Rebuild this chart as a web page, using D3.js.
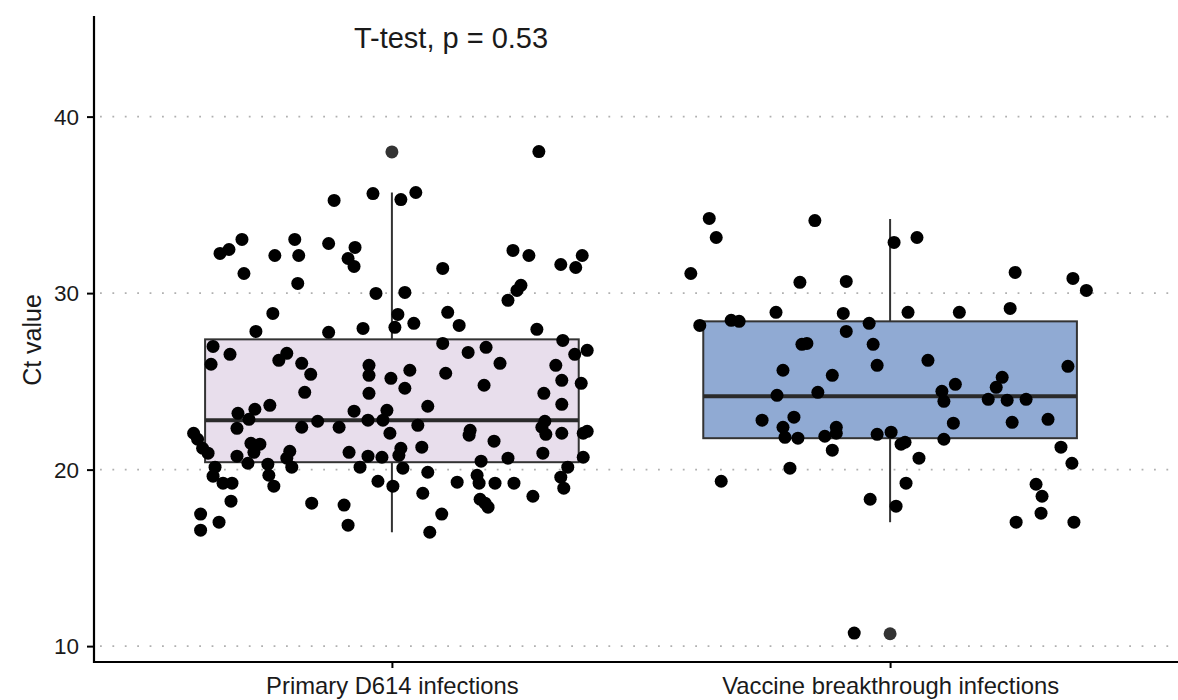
<!DOCTYPE html>
<html>
<head>
<meta charset="utf-8">
<script src="https://cdn.jsdelivr.net/npm/d3@7"></script>
<style>
  html, body { margin: 0; padding: 0; background: #fff; }
  svg { display: block; font-family: "Liberation Sans", Arial, sans-serif; }
</style>
</head>
<body>
<svg id="chart" width="1178" height="700"></svg>
<script>
// ---------------- data ----------------
const categories = ["Primary D614 infections", "Vaccine breakthrough infections"];
const boxColors = ["#E8DEEC", "#90AAD3"];
const yTicks = [10, 20, 30, 40];
const yTitle = "Ct value";
const annotation = "T-test, p = 0.53";

// box statistics: [whiskerLow, q1, median, q3, whiskerHigh]
const primaryBox = [16.45, 20.42, 22.8, 27.38, 35.7];
const vaccineBox = [17.02, 21.78, 24.15, 28.4, 34.2];
const primaryOutliers = [38.0];
const vaccineOutliers = [10.7];

// Ct values for each sample
const primaryValues = [
  38.02, 35.64, 35.30, 35.25, 35.70, 33.04, 32.25, 32.47, 33.04, 32.13,
  32.13, 32.81, 32.59, 31.96, 31.51, 31.11, 30.55, 29.98, 28.85, 27.83,
  27.78, 28.00, 28.79, 28.06, 32.42, 32.13, 31.62, 32.13, 31.45, 31.40,
  30.44, 30.15, 29.59, 30.04, 28.29, 28.91, 28.17, 27.95, 26.98, 26.53,
  25.97, 26.19, 26.59, 26.02, 25.40, 24.38, 25.91, 25.34, 24.32, 25.17,
  23.64, 23.42, 23.19, 22.85, 22.34, 22.06, 21.72, 21.21, 20.93, 21.49,
  21.44, 20.98, 20.76, 20.36, 22.40, 22.74, 22.40, 23.31, 22.80, 22.80,
  23.36, 22.06, 21.04, 20.65, 20.14, 20.98, 20.76, 20.70, 20.14, 20.14,
  19.63, 20.31, 19.68, 19.06, 19.23, 19.23, 18.21, 19.34, 19.06, 18.10,
  17.99, 16.85, 17.48, 16.57, 17.02, 27.32, 26.76, 26.53, 27.15, 26.64,
  26.93, 26.02, 25.91, 25.63, 25.46, 24.61, 24.78, 25.06, 24.89, 24.32,
  23.70, 23.59, 22.51, 22.23, 21.95, 22.74, 22.40, 22.00, 22.06, 22.17,
  22.06, 21.61, 21.27, 21.21, 20.81, 20.93, 20.65, 20.48, 20.70, 20.08,
  19.85, 20.14, 19.57, 18.95, 19.29, 19.68, 19.23, 19.23, 19.23, 18.66,
  18.49, 18.32, 18.10, 17.87, 17.48, 16.45
];
// horizontal jitter of each sample, in category units
const primaryJitter = [
  0.295, -0.038, 0.018, -0.116, 0.048, -0.301, -0.345, -0.327, -0.195, -0.235,
  -0.187, -0.127, -0.074, -0.088, -0.076, -0.297, -0.189, -0.032, -0.239, -0.273,
  -0.127, -0.058, 0.012, 0.006, 0.243, 0.275, 0.339, 0.382, 0.369, 0.102,
  0.259, 0.251, 0.233, 0.026, 0.044, 0.112, 0.135, 0.291, -0.359, -0.325,
  -0.363, -0.227, -0.211, -0.181, -0.163, -0.175, -0.046, -0.046, -0.046, -0.002,
  -0.245, -0.275, -0.309, -0.287, -0.311, -0.398, -0.390, -0.380, -0.369, -0.283,
  -0.265, -0.277, -0.311, -0.289, -0.181, -0.149, -0.106, -0.076, -0.048, -0.018,
  -0.010, -0.004, -0.205, -0.211, -0.201, -0.086, -0.048, -0.020, -0.064, -0.355,
  -0.359, -0.249, -0.247, -0.237, -0.339, -0.321, -0.323, -0.028, 0.002, -0.161,
  -0.096, -0.088, -0.384, -0.384, -0.347, 0.343, 0.392, 0.367, 0.102, 0.153,
  0.189, 0.217, 0.329, 0.036, 0.108, 0.026, 0.185, 0.341, 0.380, 0.305,
  0.341, 0.072, 0.052, 0.157, 0.155, 0.307, 0.301, 0.309, 0.341, 0.392,
  0.384, 0.205, 0.060, 0.018, 0.014, 0.303, 0.233, 0.179, 0.384, 0.022,
  0.072, 0.353, 0.339, 0.345, 0.131, 0.171, 0.175, 0.207, 0.245, 0.062,
  0.283, 0.177, 0.187, 0.193, 0.100, 0.076
];

const vaccineValues = [
  34.23, 33.15, 34.11, 31.11, 30.61, 30.66, 28.91, 28.85, 28.17, 28.46,
  28.40, 28.29, 27.83, 27.10, 27.15, 27.10, 25.91, 25.63, 25.34, 24.21,
  24.38, 22.80, 22.97, 22.40, 22.40, 22.06, 22.00, 21.89, 21.78, 21.83,
  32.87, 33.15, 31.17, 30.83, 30.15, 28.91, 28.91, 29.13, 26.19, 25.85,
  25.23, 24.66, 24.83, 24.44, 23.87, 23.98, 23.93, 23.98, 22.63, 22.68,
  22.85, 22.12, 21.72, 21.44, 21.55, 21.10, 20.65, 20.08, 19.34, 19.23,
  18.32, 17.93, 21.27, 20.36, 19.17, 18.49, 17.53, 17.02, 17.02, 10.74
];
const vaccineJitter = [
  -0.363, -0.349, -0.151, -0.400, -0.181, -0.088, -0.229, -0.094, -0.382, -0.319,
  -0.303, -0.042, -0.088, -0.177, -0.167, -0.034, -0.026, -0.215, -0.116, -0.227,
  -0.145, -0.257, -0.193, -0.215, -0.108, -0.108, -0.026, -0.131, -0.185, -0.211,
  0.008, 0.054, 0.251, 0.367, 0.394, 0.036, 0.139, 0.241, 0.076, 0.357,
  0.225, 0.213, 0.131, 0.104, 0.108, 0.197, 0.235, 0.273, 0.127, 0.245,
  0.317, 0.002, 0.108, 0.022, 0.030, -0.116, 0.058, -0.201, -0.339, 0.032,
  -0.040, 0.012, 0.343, 0.365, 0.293, 0.305, 0.303, 0.253, 0.369, -0.072
];

// ---------------- drawing ----------------
(function () {
const padL = 94, padT = 16, axisY = 662, padR = 1178;
const svg = d3.select("#chart");
const FONT = "Liberation Sans, Arial, sans-serif";

const x = d3.scaleLinear().domain([0.4, 2.6]).range([93, 1189]);
const y = d3.scaleLinear().domain([9.1, 45.7]).range([axisY, padT]);

// grid lines
svg.append("g").selectAll("line").data(yTicks).join("line")
  .attr("x1", padL + 6).attr("x2", padR)
  .attr("y1", d => y(d)).attr("y2", d => y(d))
  .attr("stroke", "#b0b0b0").attr("stroke-width", 1.8)
  .attr("stroke-dasharray", "1.8,10.6").attr("stroke-linecap", "butt");

const groups = [
  { box: primaryBox, out: primaryOutliers, vals: primaryValues, jit: primaryJitter, fill: boxColors[0] },
  { box: vaccineBox, out: vaccineOutliers, vals: vaccineValues, jit: vaccineJitter, fill: boxColors[1] }
];
const halfW = 0.375;

groups.forEach((g, i) => {
  const cx = i + 1;
  const G = svg.append("g");
  const [wl, q1, med, q3, wh] = g.box;
  G.append("line").attr("x1", x(cx)).attr("x2", x(cx)).attr("y1", y(wh)).attr("y2", y(q3))
    .attr("stroke", "#333").attr("stroke-width", 2);
  G.append("line").attr("x1", x(cx)).attr("x2", x(cx)).attr("y1", y(q1)).attr("y2", y(wl))
    .attr("stroke", "#333").attr("stroke-width", 2);
  G.append("rect").attr("x", x(cx - halfW)).attr("width", x(cx + halfW) - x(cx - halfW))
    .attr("y", y(q3)).attr("height", y(q1) - y(q3))
    .attr("fill", g.fill).attr("stroke", "#333").attr("stroke-width", 2);
  G.append("line").attr("x1", x(cx - halfW)).attr("x2", x(cx + halfW))
    .attr("y1", y(med)).attr("y2", y(med)).attr("stroke", "#2a2a2a").attr("stroke-width", 4);
  G.selectAll("circle.out").data(g.out).join("circle").attr("class", "out")
    .attr("cx", x(cx)).attr("cy", d => y(d)).attr("r", 6.5).attr("fill", "#333");
  G.selectAll("circle.pt").data(g.vals.map((v, k) => [v, g.jit[k]])).join("circle").attr("class", "pt")
    .attr("cx", d => x(cx + d[1])).attr("cy", d => y(d[0])).attr("r", 6.5).attr("fill", "#000");
});

// y axis
const yAxis = svg.append("g").attr("transform", `translate(${padL},0)`)
  .call(d3.axisLeft(y).tickValues(yTicks).tickSize(7).tickPadding(8).tickFormat(d3.format("d")));
yAxis.select(".domain").remove();
yAxis.selectAll(".tick line").attr("stroke", "#000").attr("stroke-width", 2);
yAxis.selectAll(".tick text").attr("font-size", 22.5).attr("fill", "#1a1a1a")
  .attr("font-family", FONT).attr("dy", "0.34em");
svg.append("line").attr("x1", padL).attr("x2", padL).attr("y1", padT).attr("y2", axisY + 1)
  .attr("stroke", "#000").attr("stroke-width", 2.2);

// x axis
const xAxis = svg.append("g").attr("transform", `translate(0,${axisY})`)
  .call(d3.axisBottom(x).tickValues([1, 2]).tickSize(6).tickPadding(9)
    .tickFormat(d => categories[d - 1]));
xAxis.select(".domain").remove();
xAxis.selectAll(".tick line").attr("stroke", "#000").attr("stroke-width", 2);
xAxis.selectAll(".tick text").attr("font-size", 23.8).attr("fill", "#1a1a1a")
  .attr("font-family", FONT);
svg.append("line").attr("x1", padL - 1).attr("x2", padR).attr("y1", axisY).attr("y2", axisY)
  .attr("stroke", "#000").attr("stroke-width", 2.2);

// y title
svg.append("text").attr("transform", `translate(41,${(padT + axisY) / 2 + 1}) rotate(-90)`)
  .attr("text-anchor", "middle").attr("font-size", 25).attr("fill", "#1a1a1a")
  .attr("font-family", FONT).text(yTitle);

// annotation
svg.append("text").attr("x", 451).attr("y", 48).attr("text-anchor", "middle")
  .attr("font-size", 29).attr("fill", "#1a1a1a").attr("font-family", FONT).text(annotation);
})();
</script>
</body>
</html>
